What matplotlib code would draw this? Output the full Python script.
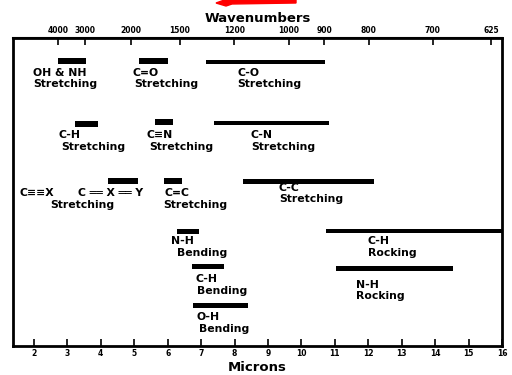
import matplotlib
matplotlib.use("Agg")
import matplotlib.pyplot as plt
from matplotlib.patches import Polygon

# IR correlation chart: band ranges in microns
bands = ["OH & NH str", "C=O str", "C-O str",
         "C-H str", "C≡N str", "C-N str",
         "C=X=Y str", "C=C str", "C-C str",
         "N-H bend", "C-H bend", "O-H bend",
         "C-H rock", "N-H rock"]
band_start = [2.71, 5.14, 7.14, 3.23, 5.63, 7.39, 4.23, 5.89, 8.25, 6.27, 6.72, 6.77, 10.74, 11.04]
band_end = [3.55, 6.00, 10.70, 3.93, 6.17, 10.82, 5.12, 6.42, 12.18, 6.94, 7.69, 8.41, 16.0, 14.53]

# vertical layout (row centres, drawing units from the top)
band_row = [61.3, 61.3, 62, 123.7, 121.5, 123, 181.3, 181.3, 181, 231.7, 266.8, 305.8, 231.2, 268.8]
band_thick = [6, 6, 4.5, 6, 6, 4.5, 6, 6, 5, 5, 5, 5, 4.5, 5]

labels = ["OH & NH", "Stretching", "C=O", "Stretching", "C-O", "Stretching",
          "C-H", "Stretching", "C≡N", "Stretching", "C-N", "Stretching",
          "C≡≡X", "C ══ X ══ Y", "C=C", "Stretching", "Stretching", "C-C", "Stretching",
          "N-H", "Bending", "C-H", "Bending", "O-H", "Bending",
          "C-H", "Rocking", "N-H", "Rocking"]
label_x = [1.97, 1.97, 4.96, 4.99, 8.08, 8.08,
           2.75, 2.81, 5.38, 5.44, 8.49, 8.49,
           1.58, 3.32, 5.92, 2.48, 5.86, 9.33, 9.33,
           6.11, 6.27, 6.82, 6.87, 6.87, 6.94,
           11.99, 11.99, 11.64, 11.64]
label_y = [72.5, 84, 72.5, 84, 72.5, 84,
           135, 147.5, 135, 147.5, 135, 147.5,
           193.5, 193.5, 193.5, 204.5, 204.5, 188, 199.5,
           241.5, 253.5, 279.5, 291, 316.5, 328.5,
           241.5, 253.5, 285, 296]

microns = list(range(2, 17))
wavenumbers = ["4000", "3000", "2000", "1500", "1200", "1000", "900", "800", "700", "625"]
wavenumber_pos = [2.72, 3.53, 4.90, 6.37, 7.99, 9.62, 10.68, 12.02, 13.93, 15.67]

plt.rcParams['font.family'] = ['DejaVu Sans']
plt.rcParams['font.weight'] = 'bold'

fig = plt.figure(figsize=(5.12, 3.75), dpi=100)
ax = fig.add_axes([13 / 512, 29 / 375, 489 / 512, 308 / 375])

widths = [e - s for s, e in zip(band_start, band_end)]
ax.barh(band_row, widths, left=band_start, height=band_thick, color='black')

for txt, x, y in zip(labels, label_x, label_y):
    ax.text(x, y, txt, fontsize=7.8, fontweight='bold', ha='left', va='center')

ax.set_xlim(1.375, 16.0)
ax.set_ylim(346, 38)
ax.set_yticks([])
ax.set_xticks(microns)
ax.set_xticklabels([str(m) for m in microns], fontsize=5.5, fontweight='bold')
ax.tick_params(axis='x', direction='in', length=5, width=1.2, pad=2)
ax.set_xlabel("Microns", fontsize=9.5, fontweight='bold', labelpad=2)

top = ax.secondary_xaxis('top')
top.set_xticks(wavenumber_pos)
top.set_xticklabels(wavenumbers, fontsize=5.5, fontweight='bold')
top.tick_params(direction='in', length=5, width=1.2, pad=2)
top.spines['top'].set_linewidth(1.5)
top.set_xlabel("Wavenumbers", fontsize=9.5, fontweight='bold', labelpad=3)

for side in ['left', 'right', 'bottom', 'top']:
    ax.spines[side].set_linewidth(2)

# red arrow cut off at the top edge
W, H = 512, 375
arrow_px = [(216, 3), (230, -2), (296, -2), (296, 3), (232, 4), (226, 6)]
fig.patches.append(Polygon([(x / W, 1 - y / H) for x, y in arrow_px], closed=True,
                           transform=fig.transFigure, color='red', zorder=5))

fig.savefig("out.png", dpi=100)
